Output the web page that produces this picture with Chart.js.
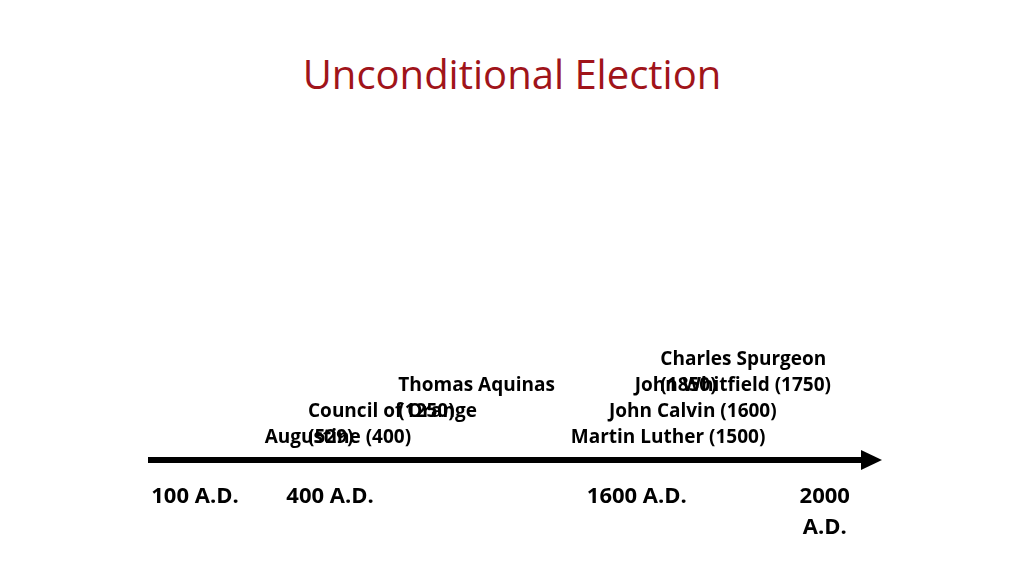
<!DOCTYPE html>
<html><head><meta charset="utf-8">
<script src="https://cdn.jsdelivr.net/npm/chart.js@4"></script>
<style>
html,body{margin:0;padding:0;background:#fff;}
#wrap{position:relative;width:1024px;height:575px;}
#title{position:absolute;top:46px;left:0;width:1024px;text-align:center;font-family:"Open Sans";font-size:40px;color:#a0141a;margin:0;font-weight:normal;}
canvas{position:absolute;top:0;left:0;}
</style></head><body>
<div id="wrap"><h1 id="title">Unconditional Election</h1><canvas id="c" width="1024" height="575"></canvas></div>
<script>
const eventLabels = [["Augustine (400)"],["Council of Orange","(529)"],["Thomas Aquinas","(1250)"],["Martin Luther (1500)"],["John Calvin (1600)"],["John Whitfield (1750)"],["Charles Spurgeon","(1850)"]];
const eventPos = [15.9, 21.8, 34.1, 57.6, 62.8, 66.3, 69.8];
const eventRow = [1, 2, 3, 1, 2, 3, 4];
const tickLabels = [["100 A.D."],["400 A.D."],["1600 A.D."],["2000","A.D."]];
const tickPos = [6.4, 24.8, 66.6, 92.2];
const axisLine = {from:0, to:97.3, row:0.15};

const labelPlugin = {
  id:'timeline',
  afterDatasetsDraw(chart){
    const {ctx, scales:{x,y}} = chart;
    ctx.save();
    ctx.fillStyle='#000';
    // arrowhead
    const tx = x.getPixelForValue(100), ty = y.getPixelForValue(axisLine.row);
    ctx.beginPath(); ctx.moveTo(tx,ty); ctx.lineTo(tx-21,ty-10); ctx.lineTo(tx-21,ty+10); ctx.closePath(); ctx.fill();
    ctx.font='bold 19px "Open Sans"'; ctx.textAlign='left'; ctx.textBaseline='middle';
    eventLabels.forEach((lines,i)=>{
      const px=x.getPixelForValue(eventPos[i]);
      lines.forEach((t,j)=>ctx.fillText(t,px,y.getPixelForValue(eventRow[i]-j)));
    });
    ctx.font='bold 22px "Open Sans"'; ctx.textAlign='center';
    tickLabels.forEach((lines,i)=>{
      const px=x.getPixelForValue(tickPos[i]);
      lines.forEach((t,j)=>ctx.fillText(t,px,y.getPixelForValue(-1.27-j*1.2)));
    });
    ctx.restore();
  }
};

new Chart(document.getElementById('c'),{
  type:'scatter',
  data:{datasets:[{data:[{x:axisLine.from,y:axisLine.row},{x:axisLine.to,y:axisLine.row}],showLine:true,borderColor:'#000',borderWidth:6,pointRadius:0,borderCapStyle:'butt'}]},
  options:{
    responsive:false, animation:false, devicePixelRatio:1,
    layout:{padding:{left:148,right:142,top:204,bottom:33}},
    plugins:{legend:{display:false},tooltip:{enabled:false}},
    scales:{x:{type:'linear',min:0,max:100,display:false},y:{type:'linear',min:-3,max:10,display:false}}
  },
  plugins:[labelPlugin]
});
</script></body></html>
